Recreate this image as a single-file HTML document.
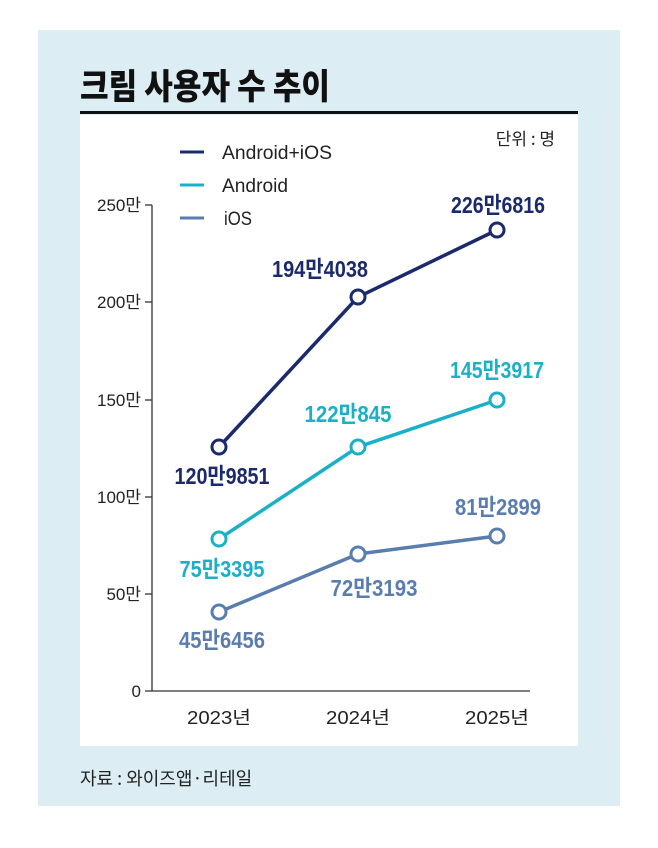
<!DOCTYPE html>
<html><head><meta charset="utf-8"><style>
body{margin:0;background:#fff;width:658px;height:843px;overflow:hidden}
svg text{font-family:"Liberation Sans","Noto Sans CJK KR",sans-serif}
</style></head><body>
<svg width="658" height="843" xmlns="http://www.w3.org/2000/svg">
<rect x="38" y="30" width="582" height="776" fill="#dcedf4"/>
<rect x="80" y="115" width="498" height="631" fill="#fff"/>
<text x="80" y="99" font-size="35" font-weight="900" fill="#111" textLength="250" lengthAdjust="spacingAndGlyphs" style="font-family:'Noto Sans CJK KR',sans-serif">크림 사용자 수 추이</text>
<rect x="80" y="111" width="498" height="3" fill="#111"/>
<text x="555" y="145" font-size="17" text-anchor="end" fill="#222" style="font-family:'Noto Sans CJK KR',sans-serif">단위 : 명</text>
<g font-size="19" fill="#222">
<line x1="180" y1="152" x2="204" y2="152" stroke="#1a2a6c" stroke-width="3"/><text x="222" y="159" textLength="110" lengthAdjust="spacingAndGlyphs">Android+iOS</text>
<line x1="180" y1="185" x2="204" y2="185" stroke="#1ab0c8" stroke-width="3"/><text x="222" y="192" textLength="66" lengthAdjust="spacingAndGlyphs">Android</text>
<line x1="180" y1="218" x2="204" y2="218" stroke="#5a7db0" stroke-width="3"/><text x="224" y="225" textLength="28" lengthAdjust="spacingAndGlyphs">iOS</text>
</g>
<g stroke="#333" stroke-width="1.3">
<line x1="152" y1="205" x2="152" y2="691"/>
<line x1="145" y1="691" x2="530" y2="691"/>
<line x1="145" y1="205" x2="152" y2="205"/><line x1="145" y1="302" x2="152" y2="302"/>
<line x1="145" y1="400" x2="152" y2="400"/><line x1="145" y1="497" x2="152" y2="497"/>
<line x1="145" y1="594" x2="152" y2="594"/>
</g>
<g font-size="17" fill="#222" text-anchor="end">
<text x="141" y="211">250만</text><text x="141" y="308">200만</text><text x="141" y="406">150만</text>
<text x="141" y="503">100만</text><text x="141" y="600">50만</text><text x="141" y="697">0</text>
</g>
<g font-size="18" fill="#222" text-anchor="middle">
<text x="219" y="724" textLength="64" lengthAdjust="spacingAndGlyphs">2023년</text><text x="358" y="724" textLength="64" lengthAdjust="spacingAndGlyphs">2024년</text><text x="497" y="724" textLength="64" lengthAdjust="spacingAndGlyphs">2025년</text>
</g>
<g fill="#fff" stroke-width="3">
<polyline points="219,447 358,297 497,230" fill="none" stroke="#1a2a6c" stroke-width="3.5"/>
<polyline points="219,539 358,447 497,400" fill="none" stroke="#1ab0c8" stroke-width="3.5"/>
<polyline points="219,612 358,554 497,536" fill="none" stroke="#5a7db0" stroke-width="3.5"/>
<g stroke="#1a2a6c"><circle cx="219" cy="447" r="7"/><circle cx="358" cy="297" r="7"/><circle cx="497" cy="230" r="7"/></g>
<g stroke="#1ab0c8"><circle cx="219" cy="539" r="7"/><circle cx="358" cy="447" r="7"/><circle cx="497" cy="400" r="7"/></g>
<g stroke="#5a7db0"><circle cx="219" cy="612" r="7"/><circle cx="358" cy="554" r="7"/><circle cx="497" cy="536" r="7"/></g>
</g>
<g font-size="23" font-weight="bold" text-anchor="middle">
<text x="498" y="213" fill="#1a2a6c" textLength="94" lengthAdjust="spacingAndGlyphs">226만6816</text>
<text x="320" y="277" fill="#1a2a6c" textLength="96" lengthAdjust="spacingAndGlyphs">194만4038</text>
<text x="222" y="484" fill="#1a2a6c" textLength="95" lengthAdjust="spacingAndGlyphs">120만9851</text>
<text x="497" y="378" fill="#1ab0c8" textLength="94" lengthAdjust="spacingAndGlyphs">145만3917</text>
<text x="348" y="422" fill="#1ab0c8" textLength="87" lengthAdjust="spacingAndGlyphs">122만845</text>
<text x="222" y="577" fill="#1ab0c8" textLength="85" lengthAdjust="spacingAndGlyphs">75만3395</text>
<text x="498" y="515" fill="#5a7db0" textLength="86" lengthAdjust="spacingAndGlyphs">81만2899</text>
<text x="374" y="596" fill="#5a7db0" textLength="87" lengthAdjust="spacingAndGlyphs">72만3193</text>
<text x="222" y="648" fill="#5a7db0" textLength="86" lengthAdjust="spacingAndGlyphs">45만6456</text>
</g>
<text x="80" y="785" font-size="18" fill="#222" style="font-family:'Noto Sans CJK KR',sans-serif">자료 : 와이즈앱·리테일</text>
</svg>
</body></html>
